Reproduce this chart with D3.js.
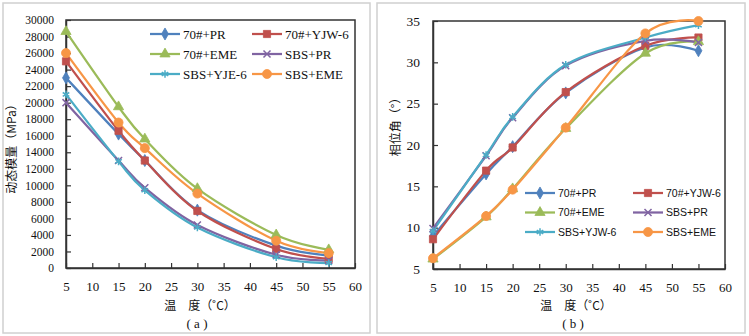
<!DOCTYPE html>
<html>
<head>
<meta charset="utf-8">
<script src="https://cdn.jsdelivr.net/npm/d3@7"></script>
<style>
  body { margin: 0; background: #fff; }
  svg { display: block; }
</style>
</head>
<body>
<div id="chart"></div>
<script>
// temperatures (x) shared by both panels
const temps = [5, 15, 20, 30, 45, 55];
const xTicks = [5, 10, 15, 20, 25, 30, 35, 40, 45, 50, 55, 60];

const namesA = ["70#+PR", "70#+YJW-6", "70#+EME", "SBS+PR", "SBS+YJE-6", "SBS+EME"];
const namesB = ["70#+PR", "70#+YJW-6", "70#+EME", "SBS+PR", "SBS+YJW-6", "SBS+EME"];

// dynamic modulus (MPa), panel (a)
const modPR70   = [23000, 16200, 13000, 7000, 2700, 1500];
const modYJW70  = [25000, 16600, 13000, 6900, 2300, 1100];
const modEME70  = [28600, 19500, 15600, 9600, 4000, 2200];
const modPRSBS  = [20000, 13000, 9700, 5200, 1600, 900];
const modYJWSBS = [21000, 12900, 9400, 4900, 1300, 600];
const modEMESBS = [26000, 17600, 14500, 9000, 3300, 1800];

// phase angle (deg), panel (b)
const phPR70   = [9.0, 16.5, 19.8, 26.3, 31.8, 31.4];
const phYJW70  = [8.6, 16.9, 19.7, 26.4, 32.0, 33.0];
const phEME70  = [6.2, 11.3, 14.7, 22.0, 31.1, 32.5];
const phPRSBS  = [9.9, 18.7, 23.3, 29.6, 32.6, 32.4];
const phYJWSBS = [9.6, 18.8, 23.4, 29.7, 33.0, 34.5];
const phEMESBS = [6.3, 11.4, 14.6, 22.1, 33.5, 35.0];

const modTicks = [0, 2000, 4000, 6000, 8000, 10000, 12000, 14000, 16000, 18000, 20000, 22000, 24000, 26000, 28000, 30000];
const phTicks = [5, 10, 15, 20, 25, 30, 35];

const colors = ["#4F81BD", "#C0504D", "#9BBB59", "#8064A2", "#4BACC6", "#F79646"];
const symbols = [d3.symbolDiamond, d3.symbolSquare, d3.symbolTriangle, d3.symbolX, d3.symbolAsterisk, d3.symbolCircle];
const symSize = [42, 52, 45, 34, 40, 64];

const svg = d3.select("#chart").append("svg")
    .attr("width", 749)
    .attr("height", 336);

const serif = "'Liberation Serif', 'Times New Roman', Times, serif";
const sans = "'Liberation Sans', Arial, sans-serif";
const cjk = "'Noto Sans CJK SC', sans-serif";

function marker(g, i, x, y) {
    let stroke = (symbols[i] === d3.symbolX || symbols[i] === d3.symbolAsterisk);
    g.append("path")
        .attr("d", d3.symbol(symbols[i], symSize[i])())
        .attr("transform", "translate(" + x + "," + y + ")")
        .attr("fill", stroke ? "none" : colors[i])
        .attr("stroke", colors[i])
        .attr("stroke-width", stroke ? 1.5 : 0.8);
}

function panel(opt) {
    let g = svg.append("g");

    // outer panel border
    g.append("rect")
        .attr("x", opt.box[0]).attr("y", 3)
        .attr("width", opt.box[1] - opt.box[0]).attr("height", 330)
        .attr("fill", "#fff")
        .attr("stroke", "#d0d0d0")
        .attr("stroke-width", 1.5);

    let x = d3.scaleLinear().domain([5, 60]).range([opt.left, opt.right]);
    let y = d3.scaleLinear().domain(opt.yDomain).range([opt.bottom, opt.top]);

    // plot frame
    g.append("rect")
        .attr("x", opt.left).attr("y", opt.top)
        .attr("width", opt.right - opt.left).attr("height", opt.bottom - opt.top)
        .attr("fill", "none")
        .attr("stroke", "#333")
        .attr("stroke-width", 1.5);

    // axes with inner ticks
    let xAxis = g.append("g")
        .attr("transform", "translate(0," + opt.bottom + ")")
        .call(d3.axisBottom(x).tickValues(xTicks).tickFormat(d3.format("d"))
            .tickSizeInner(-5).tickSizeOuter(0).tickPadding(14));
    let yAxis = g.append("g")
        .attr("transform", "translate(" + opt.left + ",0)")
        .call(d3.axisLeft(y).tickValues(opt.yTicks).tickFormat(d3.format("d"))
            .tickSizeInner(-5).tickSizeOuter(0).tickPadding(opt.yPad));
    [xAxis, yAxis].forEach(function (a) {
        a.attr("font-family", null);
        a.select(".domain").attr("stroke", "#333").attr("stroke-width", 1.5);
        a.selectAll(".tick line").attr("stroke", "#333").attr("stroke-width", 1.2);
        a.selectAll("text").style("font-family", serif).attr("fill", "#111");
    });
    xAxis.selectAll("text").style("font-size", "13px");
    yAxis.selectAll("text").style("font-size", opt.yFont + "px");

    // series lines (smoothed like excel)
    let line = d3.line()
        .x(function (d) { return x(d[0]); })
        .y(function (d) { return y(d[1]); })
        .curve(d3.curveCatmullRom.alpha(0));

    opt.series.forEach(function (vals, i) {
        let pts = temps.map(function (t, k) { return [t, vals[k]]; });
        g.append("path")
            .datum(pts)
            .attr("d", line)
            .attr("fill", "none")
            .attr("stroke", colors[i])
            .attr("stroke-width", 2.25);
    });
    opt.series.forEach(function (vals, i) {
        temps.forEach(function (t, k) {
            marker(g, i, x(t), y(vals[k]));
        });
    });

    // legend, 2 columns x 3 rows
    opt.names.forEach(function (name, i) {
        let lx = opt.legX[i % 2];
        let ly = opt.legY + Math.floor(i / 2) * opt.legStep;
        g.append("line")
            .attr("x1", lx).attr("x2", lx + 30)
            .attr("y1", ly).attr("y2", ly)
            .attr("stroke", colors[i])
            .attr("stroke-width", 2.25);
        marker(g, i, lx + 15, ly);
        g.append("text")
            .attr("x", lx + 33).attr("y", ly)
            .attr("dy", "0.35em")
            .style("font-family", opt.legFont)
            .style("font-size", opt.legSize + "px")
            .attr("fill", "#111")
            .text(name);
    });

    // axis titles
    g.append("text")
        .attr("x", opt.xTitle).attr("y", 306)
        .attr("dy", "0.35em")
        .attr("text-anchor", "middle")
        .style("font-family", cjk)
        .style("font-size", "12px")
        .attr("fill", "#111")
        .text("温\u3000度（˚C）");
    g.append("text")
        .attr("x", opt.xTitle - 3).attr("y", 323)
        .attr("dy", "0.35em")
        .attr("text-anchor", "middle")
        .style("font-family", serif)
        .style("font-size", "13px")
        .attr("fill", "#111")
        .text("( " + opt.tag + " )");
    g.append("text")
        .attr("transform", "translate(" + opt.yTitle[0] + "," + opt.yTitle[1] + ") rotate(-90)")
        .attr("dy", "0.35em")
        .attr("text-anchor", "middle")
        .style("font-family", cjk)
        .style("font-size", "12px")
        .attr("fill", "#111")
        .text(opt.yLabel);
}

panel({
    box: [3, 370], left: 66, right: 355, top: 20, bottom: 268,
    yDomain: [0, 30000], yTicks: modTicks, yPad: 12, yFont: 11.5,
    series: [modPR70, modYJW70, modEME70, modPRSBS, modYJWSBS, modEMESBS],
    names: namesA, legX: [150, 252], legY: 34, legStep: 20,
    legFont: serif, legSize: 13,
    xTitle: 200, tag: "a", yTitle: [12, 146], yLabel: "动态模量（MPa）"
});

panel({
    box: [377, 745], left: 433, right: 725, top: 21, bottom: 269,
    yDomain: [5, 35], yTicks: phTicks, yPad: 13, yFont: 13.5,
    series: [phPR70, phYJW70, phEME70, phPRSBS, phYJWSBS, phEMESBS],
    names: namesB, legX: [525, 633], legY: 193, legStep: 19.5,
    legFont: sans, legSize: 10.5,
    xTitle: 576, tag: "b", yTitle: [396, 124], yLabel: "相位角（°）"
});
</script>
</body>
</html>
